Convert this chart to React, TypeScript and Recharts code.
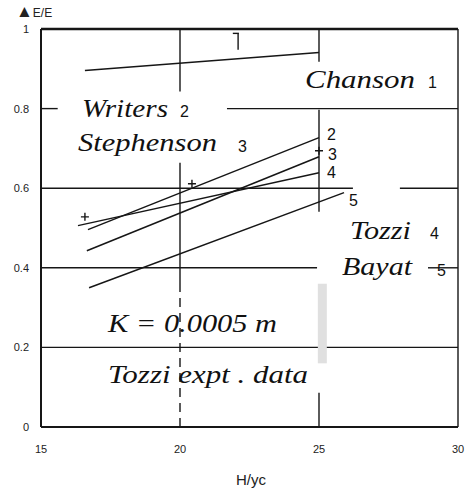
import React from 'react';
import { ComposedChart, Line, Scatter, XAxis, YAxis, ReferenceLine } from 'recharts';

// H/yc values and ΔE/E values
const chansonX = [16.58, 25];
const chansonY = [0.896, 0.941];
const writersX = [16.69, 25];
const writersY = [0.496, 0.727];
const stephensonX = [16.65, 25];
const stephensonY = [0.443, 0.679];
const tozziX = [16.33, 25];
const tozziY = [0.506, 0.639];
const bayatX = [16.73, 25.9];
const bayatY = [0.35, 0.589];

// Tozzi experimental points (+)
const exptX = [16.58, 20.43, 25];
const exptY = [0.528, 0.611, 0.694];

const xTicks = [15, 20, 25, 30];
const yTicks = [0, 0.2, 0.4, 0.6, 0.8, 1];

// broken grid lines of the scan: [x1, y1, x2, y2]
const gridSolid: number[][] = [
  [20, 1, 20, 0.843],
  [20, 0.664, 20, 0.362],
  [25, 1, 25, 0.918],
  [25, 0.797, 25, 0.541],
  [25, 0.086, 25, 0],
  [15, 0.8, 15.6, 0.8],
  [21.69, 0.8, 30, 0.8],
  [15, 0.6, 26.22, 0.6],
  [27.91, 0.6, 30, 0.6],
  [15, 0.4, 24.93, 0.4],
  [28.92, 0.4, 30, 0.4],
  [15, 0.2, 30, 0.2],
  [30, 0, 30, 1],
  [22.09, 0.989, 22.09, 0.948],
  [21.9, 0.989, 22.12, 0.989],
];
const gridDashed: number[][] = [[20, 0.362, 20, 0]];

const pts = (xs: number[], ys: number[]) => xs.map((x, i) => ({ x, y: ys[i] }));

const ink = '#161616';

const PlusShape = (props: any) => {
  const { cx, cy } = props;
  return (
    <path d={`M${cx - 4},${cy}H${cx + 4}M${cx},${cy - 4}V${cy + 4}`} stroke={ink} strokeWidth={1.4} fill="none" />
  );
};

const serif = '"Liberation Serif", "DejaVu Serif", serif';
const sans = '"Liberation Sans", "DejaVu Sans", sans-serif';

export default function App() {
  const series = [
    pts(chansonX, chansonY),
    pts(writersX, writersY),
    pts(stephensonX, stephensonY),
    pts(tozziX, tozziY),
    pts(bayatX, bayatY),
  ];
  return (
    <div style={{ position: 'absolute', left: 0, top: 0, width: 476, height: 493, background: '#fff' }}>
      <ComposedChart width={476} height={493} margin={{ top: 29, right: 18, left: 0, bottom: 0 }}>
        <XAxis
          type="number"
          dataKey="x"
          domain={[15, 30]}
          ticks={xTicks}
          allowDataOverflow
          height={66}
          tickLine={false}
          tickMargin={12}
          axisLine={{ stroke: ink, strokeWidth: 2 }}
          tick={{ fontSize: 11, fill: '#222', fontFamily: sans }}
        />
        <YAxis
          type="number"
          domain={[0, 1]}
          ticks={yTicks}
          allowDataOverflow
          width={41}
          tickLine={false}
          tickMargin={6}
          axisLine={{ stroke: ink, strokeWidth: 2 }}
          tickFormatter={(v: number) => String(v)}
          tick={{ fontSize: 11, fill: '#222', fontFamily: sans }}
        />
        <ReferenceLine segment={[{ x: 15, y: 1 }, { x: 30, y: 1 }]} stroke={ink} strokeWidth={2.5} />
        {gridSolid.map((s, i) => (
          <ReferenceLine key={'g' + i} segment={[{ x: s[0], y: s[1] }, { x: s[2], y: s[3] }]} stroke={ink} strokeWidth={1.4} />
        ))}
        {gridDashed.map((s, i) => (
          <ReferenceLine key={'d' + i} segment={[{ x: s[0], y: s[1] }, { x: s[2], y: s[3] }]} stroke={ink} strokeWidth={1.4} strokeDasharray="9 6" />
        ))}
        <ReferenceLine segment={[{ x: 25.12, y: 0.36 }, { x: 25.12, y: 0.16 }]} stroke="#e0e0e0" strokeWidth={9} />
        {series.map((d, i) => (
          <Line key={'s' + i} data={d} dataKey="y" stroke={ink} strokeWidth={1.5} dot={false} isAnimationActive={false} />
        ))}
        <Scatter data={pts(exptX, exptY)} dataKey="y" shape={PlusShape} isAnimationActive={false} />
      </ComposedChart>
      <svg width={476} height={493} style={{ position: 'absolute', left: 0, top: 0, pointerEvents: 'none' }}>
        <text x={16} y={17} fontFamily={sans} fontSize={12} fill="#222">
          <tspan fontSize={17} fontWeight="bold">▲</tspan>E/E
        </text>
        <text x={251} y={485} fontFamily={sans} fontSize={15} fill="#222" textAnchor="middle">H/yc</text>
        <g fontFamily={serif} fontStyle="italic" fontSize={25} fill="#111">
          <text x={305} y={88} textLength={110} lengthAdjust="spacingAndGlyphs">Chanson</text>
          <text x={82} y={117} textLength={86} lengthAdjust="spacingAndGlyphs">Writers</text>
          <text x={78} y={151} textLength={139} lengthAdjust="spacingAndGlyphs">Stephenson</text>
          <text x={350} y={239} textLength={61} lengthAdjust="spacingAndGlyphs">Tozzi</text>
          <text x={342} y={275} textLength={70} lengthAdjust="spacingAndGlyphs">Bayat</text>
          <text x={108} y={332} textLength={169} lengthAdjust="spacingAndGlyphs">K = 0.0005 m</text>
          <text x={108} y={383} textLength={200} lengthAdjust="spacingAndGlyphs">Tozzi expt . data</text>
        </g>
        <g fontFamily={sans} fontSize={16} fill="#111">
          <text x={428} y={88}>1</text>
          <text x={180} y={117}>2</text>
          <text x={238} y={152}>3</text>
          <text x={430} y={239}>4</text>
          <text x={437} y={276}>5</text>
          <text x={327} y={140}>2</text>
          <text x={328} y={160}>3</text>
          <text x={327} y={178}>4</text>
          <text x={349} y={206}>5</text>
        </g>
      </svg>
    </div>
  );
}
